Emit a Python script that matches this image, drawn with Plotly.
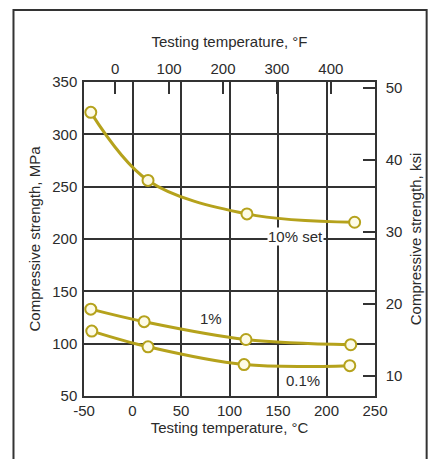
import plotly.graph_objects as go

# Compressive strength vs. testing temperature at three strain levels
temp_c_10 = [-43, 16, 118, 229]
mpa_10 = [321, 256, 224, 216]

temp_c_1 = [-43, 12, 117, 225]
mpa_1 = [133, 121, 104, 99]

temp_c_01 = [-42, 16, 115, 224]
mpa_01 = [112, 97, 80, 79]

series_labels = ["10% set", "1%", "0.1%"]
label_pos_c = [168, 81, 176]
label_pos_mpa = [202, 124, 65]

c_ticks = [-50, 0, 50, 100, 150, 200, 250]
c_tick_text = ["-50", "0", "50", "100", "150", "200", "250"]
f_ticks = [0, 100, 200, 300, 400]
mpa_ticks = [50, 100, 150, 200, 250, 300, 350]
ksi_ticks = [10, 20, 30, 40, 50]

C_RANGE = [-50, 250]
MPA_RANGE = [50, 350]
F_RANGE = [c * 9 / 5 + 32 for c in C_RANGE]
KSI_RANGE = [m / 6.894757 for m in MPA_RANGE]

LINE = "#b5a21c"
FILL = "#fdfbe6"
INK = "#2b2b2b"
FONT = dict(family="Liberation Sans, Arial, sans-serif", size=15, color=INK)

fig = go.Figure()
for xs, ys in [(temp_c_10, mpa_10), (temp_c_1, mpa_1), (temp_c_01, mpa_01)]:
    fig.add_trace(go.Scatter(
        x=xs, y=ys, mode="lines+markers",
        line=dict(color=LINE, width=3, shape="spline", smoothing=1),
        marker=dict(size=11, color=FILL, line=dict(color=LINE, width=2)),
        showlegend=False, hoverinfo="skip", cliponaxis=False,
    ))

# secondary axes (°F on top, ksi on right) carried by an invisible trace
fig.add_trace(go.Scatter(x=F_RANGE, y=KSI_RANGE, xaxis="x2", yaxis="y2",
                         mode="markers", marker=dict(opacity=0),
                         showlegend=False, hoverinfo="skip"))

for text, xc, ym in zip(series_labels, label_pos_c, label_pos_mpa):
    fig.add_annotation(x=xc, y=ym, text=text, showarrow=False,
                       font=FONT, bgcolor="white" if text == "10% set" else None,
                       borderpad=0)

grid = dict(showgrid=True, gridcolor="#333333", gridwidth=1.5, zeroline=False,
            showline=True, linecolor="#333333", linewidth=1.5)

fig.update_layout(
    width=434, height=459,
    margin=dict(l=84, r=57, t=82, b=63),
    paper_bgcolor="white", plot_bgcolor="white",
    font=FONT,
    xaxis=dict(range=C_RANGE, tickvals=c_ticks, ticktext=c_tick_text, ticks="",
               ticklabelstandoff=0, **grid,
               title=dict(text="Testing temperature, °C", font=FONT, standoff=4)),
    yaxis=dict(range=MPA_RANGE, tickvals=mpa_ticks, ticks="", ticklabelstandoff=2, **grid,
               title=dict(text="Compressive strength, MPa", font=FONT, standoff=8)),
    xaxis2=dict(range=F_RANGE, tickvals=f_ticks, overlaying="x", side="top",
                ticks="inside", ticklen=12, tickwidth=1.5, tickcolor="#333333",
                showgrid=False, zeroline=False, showline=True,
                linecolor="#333333", linewidth=1.5,
                title=dict(text="Testing temperature, °F", font=FONT, standoff=9)),
    yaxis2=dict(range=KSI_RANGE, tickvals=ksi_ticks, overlaying="y", side="right",
                ticks="inside", ticklen=12, tickwidth=1.5, tickcolor="#333333",
                ticklabelstandoff=6,
                showgrid=False, zeroline=False, showline=True,
                linecolor="#333333", linewidth=1.5,
                title=dict(text="Compressive strength, ksi", font=FONT, standoff=9)),
)

# outer frame around the whole figure
fig.add_shape(type="rect", xref="paper", yref="paper",
              x0=(13 - 84) / 293, x1=(429 - 84) / 293,
              y0=(396 - 490) / 314, y1=(396 - 10) / 314,
              line=dict(color="#333333", width=2), layer="below")

fig.write_html("out.html")
